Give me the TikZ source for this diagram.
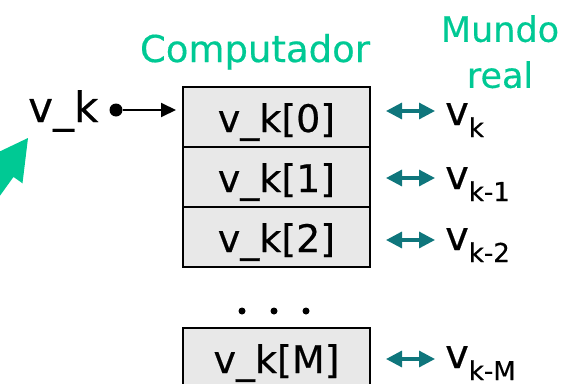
\documentclass[tikz,border=0pt]{standalone}
\usepackage{fontspec}
\setmainfont{DejaVu Sans}[FakeBold=0.4]
\usepackage{tikz}
\usetikzlibrary{arrows.meta, positioning}

\definecolor{mint}{HTML}{00C994}
\definecolor{tealarr}{HTML}{0F767C}
\definecolor{cellgray}{HTML}{E8E8E8}

\newcommand{\lowidx}[1]{\raisebox{-12pt}{\fontsize{26}{30}\selectfont #1}}

\begin{document}
\begin{tikzpicture}[x=1pt, y=-1pt,
    cell/.style={draw, line width=1.6pt, fill=cellgray, outer sep=0pt, inner sep=0pt,
        minimum width=187pt, minimum height=60pt, text height=40pt, text depth=10pt,
        font=\fontsize{38}{45}\selectfont},
    realv/.style={anchor=base west, inner sep=0pt, font=\fontsize{40}{48}\selectfont},
    twoway/.style={{Triangle[length=16pt,width=16pt]}-{Triangle[length=16pt,width=16pt]},
        line width=3.2pt, tealarr}]
    \useasboundingbox (0,0) rectangle (578,383);
    \clip (0,0) rectangle (578,383);

    % titles
    \node[anchor=base, inner sep=0pt, text=mint, font=\fontsize{37}{44}\selectfont] (pc) at (255,62) {Computador};
    \node[anchor=north, align=center, inner sep=0pt, text=mint, font=\fontsize{35}{46}\selectfont] (world) at (500,15) {Mundo\\real};

    % buffer cells
    \node[cell] (c0) at (276.5,117) {v\_k[0]};
    \node[cell, below=0pt of c0] (c1) {v\_k[1]};
    \node[cell, below=0pt of c1] (c2) {v\_k[2]};
    \foreach \x in {242,274,306}
        \fill (\x,311) circle (3.5);
    \node[cell] (cM) at (276.5,358) {v\_k[M]};

    % input sample
    \node[anchor=base west, inner sep=0pt, font=\fontsize{42}{50}\selectfont] (vk) at (28,122) {v\_k};
    \node[circle, fill, inner sep=0pt, minimum size=13pt] (dot) at (116,110) {};
    \draw[-{Triangle[length=15pt,width=14pt]}, line width=2pt] (dot) -- ([xshift=-7pt]c0.west |- dot);

    \fill[mint] (28,138) -- (22.5,183.3) -- (13.5,176.9) -- (-44.9,258.1)
        -- (-62.7,245.3) -- (-4.3,164.1) -- (-13.3,157.7) -- cycle;

    % real world samples
    \node[realv] (r0) at (445,125) {v\lowidx{k}};
    \node[realv] (r1) at (445,189) {v\lowidx{k-1}};
    \node[realv] (r2) at (445,250) {v\lowidx{k-2}};
    \node[realv] (rM) at (445,368) {v\lowidx{k-M}};

    \foreach \r/\up in {0/14,1/11,2/10,M/9} {
        \coordinate (e\r) at ([shift={(-10,-\up)}]r\r.base west);
        \draw[twoway] ([xshift=16pt]c\r.east |- e\r) -- (e\r);
    }
\end{tikzpicture}
\end{document}
